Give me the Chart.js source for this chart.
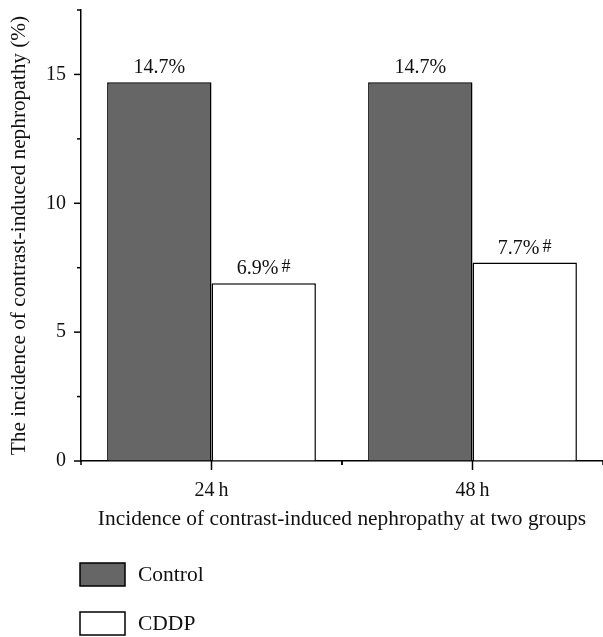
<!DOCTYPE html>
<html lang="en">
<head>
  <meta charset="UTF-8">
  <title>Contrast-induced nephropathy</title>
  <script src="https://cdn.jsdelivr.net/npm/chart.js"></script>
  <style>
    html, body { margin: 0; padding: 0; background: #fff; }
    #wrap { width: 603px; height: 637px; }
  </style>
</head>
<body>
  <div id="wrap"><canvas id="cinChart"></canvas></div>

  <script>
    const categories = ["24\u2009h", "48\u2009h"];
    const controlValues = [14.7, 14.7];
    const cddpValues = [6.9, 7.7];
    const cddpMarks = ["#", "#"];
    const yTicks = [0, 5, 10, 15];

    const serif = "'Liberation Serif', 'DejaVu Serif', serif";
    Chart.defaults.font.family = serif;
    Chart.defaults.color = "#111";

    // small tick marks on both axes (major/minor lengths differ)
    const axisTicks = {
      id: "axisTicks",
      afterDraw(chart) {
        const { ctx, scales: { x, y } } = chart;
        ctx.save();
        ctx.strokeStyle = "#000";
        ctx.lineWidth = 1.5;
        const line = (x1, y1, x2, y2) => {
          ctx.beginPath(); ctx.moveTo(x1, y1); ctx.lineTo(x2, y2); ctx.stroke();
        };
        y.ticks.forEach(t => {
          const py = y.getPixelForValue(t.value);
          const len = yTicks.includes(t.value) ? 7 : 4;
          line(x.left - len, py, x.left, py);
        });
        const half = (x.getPixelForValue(1) - x.getPixelForValue(0)) / 2;
        categories.forEach((c, i) => {
          const px = x.getPixelForValue(i);
          line(px, y.bottom, px, y.bottom + 9);
          line(px - half, y.bottom, px - half, y.bottom + 4);
          line(px + half, y.bottom, px + half, y.bottom + 4);
        });
        ctx.restore();
      }
    };

    // value labels above bars
    const valueLabels = {
      id: "valueLabels",
      afterDatasetsDraw(chart) {
        const ctx = chart.ctx;
        ctx.save();
        ctx.fillStyle = "#111";
        ctx.textBaseline = "alphabetic";
        chart.data.datasets.forEach((ds, di) => {
          chart.getDatasetMeta(di).data.forEach((bar, i) => {
            const main = ds.data[i].toFixed(1) + "%";
            const mark = di === 1 ? cddpMarks[i] : "";
            ctx.font = "20px " + serif;
            const w1 = ctx.measureText(main).width;
            ctx.font = "18px " + serif;
            const gap = mark ? 3 : 0;
            const w2 = mark ? ctx.measureText(mark).width : 0;
            const left = bar.x - (w1 + gap + w2) / 2;
            const base = bar.y - 9;
            ctx.textAlign = "left";
            ctx.font = "20px " + serif;
            ctx.fillText(main, left, base);
            if (mark) {
              ctx.font = "18px " + serif;
              ctx.fillText(mark, left + w1 + gap, base - 2);
            }
          });
        });
        ctx.restore();
      }
    };

    // vertical legend under the axis title
    const stackedLegend = {
      id: "stackedLegend",
      afterDraw(chart) {
        const ctx = chart.ctx;
        ctx.save();
        chart.data.datasets.forEach((ds, i) => {
          const top = 563 + i * 49;
          ctx.fillStyle = ds.backgroundColor;
          ctx.fillRect(80, top, 45, 23);
          ctx.strokeStyle = "#000";
          ctx.lineWidth = 1.5;
          ctx.strokeRect(80, top, 45, 23);
          ctx.fillStyle = "#111";
          ctx.font = "21.5px " + serif;
          ctx.textBaseline = "middle";
          ctx.fillText(ds.label, 138, top + 12);
        });
        ctx.restore();
      }
    };

    new Chart(document.getElementById("cinChart"), {
      type: "bar",
      data: {
        labels: categories,
        datasets: [
          {
            label: "Control",
            data: controlValues,
            backgroundColor: "#666666",
            borderColor: "#000",
            borderWidth: 1.5
          },
          {
            label: "CDDP",
            data: cddpValues,
            backgroundColor: "#ffffff",
            borderColor: "#000",
            borderWidth: 1.5
          }
        ]
      },
      options: {
        responsive: true,
        maintainAspectRatio: false,
        animation: false,
        layout: { padding: { top: 10, right: 0, bottom: 101, left: 0 } },
        datasets: { bar: { barPercentage: 1, categoryPercentage: 0.8 } },
        plugins: {
          legend: { display: false },
          tooltip: { enabled: false }
        },
        scales: {
          x: {
            grid: { display: true, drawOnChartArea: false, drawTicks: false },
            border: { color: "#000", width: 1.5 },
            ticks: { font: { size: 20 }, padding: 18 },
            title: {
              display: true,
              text: "Incidence of contrast-induced nephropathy at two groups",
              font: { size: 21.4 },
              padding: { top: 0, bottom: 4 }
            },
            afterFit: s => { s.height = 75; }
          },
          y: {
            min: 0,
            max: 17.5,
            grid: { display: true, drawOnChartArea: false, drawTicks: false },
            border: { color: "#000", width: 1.5 },
            ticks: {
              stepSize: 2.5,
              font: { size: 20 },
              padding: 15,
              callback: v => (yTicks.includes(v) ? v : "")
            },
            title: {
              display: true,
              text: "The incidence of contrast-induced nephropathy (%)",
              font: { size: 21.3 },
              padding: { top: 7, bottom: 0 }
            },
            afterFit: s => { s.width = 81; s.paddingTop = 0; s.paddingBottom = 0; }
          }
        }
      },
      plugins: [axisTicks, valueLabels, stackedLegend]
    });
  </script>
</body>
</html>
